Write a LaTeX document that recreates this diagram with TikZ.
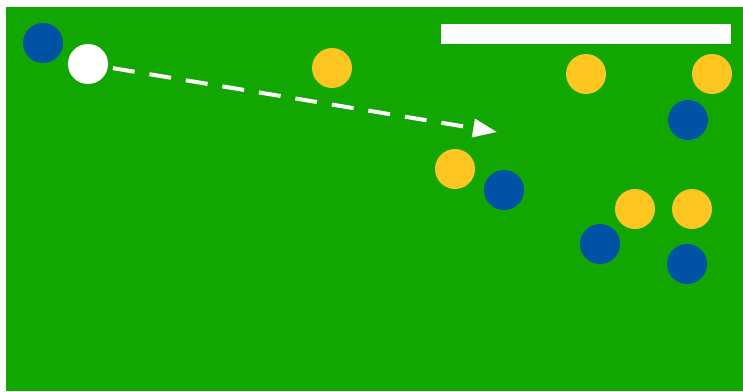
\documentclass[tikz,border=0pt]{standalone}
\usetikzlibrary{arrows.meta}
\definecolor{field}{RGB}{17,167,0}
\definecolor{pblue}{RGB}{0,82,165}
\definecolor{pyellow}{RGB}{254,198,32}
\begin{document}
\begin{tikzpicture}[x=1pt,y=-1pt,
  disc/.style={circle,inner sep=0pt,minimum size=40pt,draw=none},
  bluep/.style={disc,fill=pblue},
  yellowp/.style={disc,fill=pyellow},
  ballp/.style={disc,fill=white},
  pass/.style={white,line width=4pt,dash pattern=on 22pt off 15pt,
    -{Triangle[length=24pt,width=18pt]},shorten <=5pt}]
\useasboundingbox (0,0) rectangle (743,391);
\fill[white] (0,0) rectangle (743,391);
\fill[field] (6,7) rectangle (743,391);
\fill[white] (441,24) rectangle (731,44);
\node[bluep] (b1) at (43,43) {};
\node[ballp] (w) at (88,64) {};
\node[yellowp] (y1) at (332,68) {};
\node[yellowp] (y2) at (586,74) {};
\node[yellowp] (y3) at (712,74) {};
\node[bluep] (b2) at (688,120) {};
\node[yellowp] (y4) at (455,169) {};
\node[bluep] (b3) at (504,190) {};
\node[yellowp] (y5) at (635,209) {};
\node[yellowp] (y6) at (692,209) {};
\node[bluep] (b4) at (600,244) {};
\node[bluep] (b5) at (687,264) {};
\coordinate (tip) at (497,132);
\draw[pass] (w) -- (tip);
\end{tikzpicture}
\end{document}
